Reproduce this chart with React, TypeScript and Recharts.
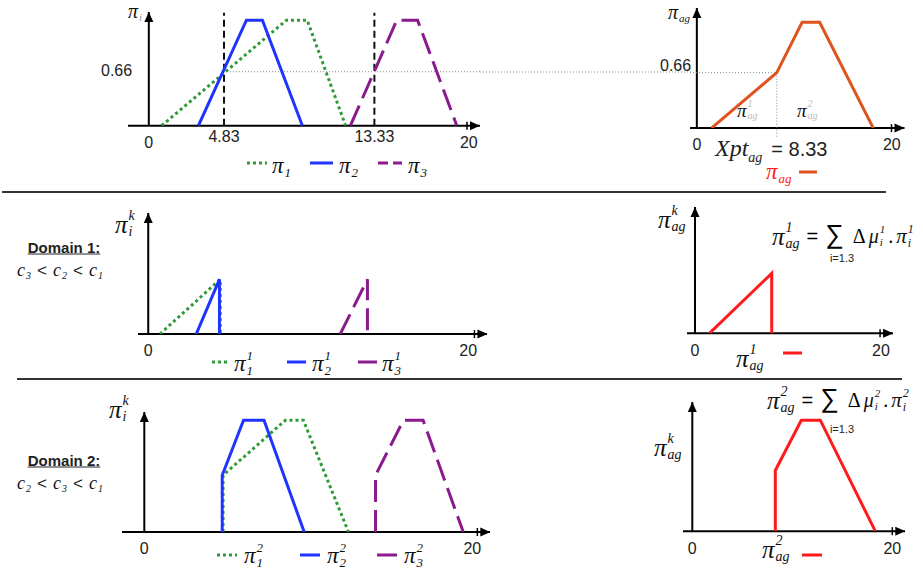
import React from 'react';
import { LineChart, Line, XAxis, YAxis, ReferenceLine, ReferenceDot } from 'recharts';

type Pt = { x: number; y: number };

// row 1 : full distributions
const pi1: Pt[] = [{ x: 0.8, y: 0 }, { x: 8.6, y: 1.29 }, { x: 9.9, y: 1.29 }, { x: 12.3, y: 0 }];
const pi2: Pt[] = [{ x: 3.1, y: 0 }, { x: 6.1, y: 1.29 }, { x: 7.1, y: 1.29 }, { x: 9.6, y: 0 }];
const pi3: Pt[] = [{ x: 12.6, y: 0 }, { x: 15.5, y: 1.29 }, { x: 16.8, y: 1.29 }, { x: 19.25, y: 0 }];
const piAg: Pt[] = [{ x: 1.5, y: 0 }, { x: 8.2, y: 0.66 }, { x: 10.8, y: 1.26 }, { x: 12.6, y: 1.26 }, { x: 18.1, y: 0 }];
const cutLevel = 0.66;
const cutsTop = [4.7, 14.1];
const xptAg = 8.2;
const topTicks = [0, 4.7, 14.1, 20];
const topTickLabels = ['0', '4.83', '13.33', '20'];
const aggTicks = [0, 20];

// row 2 : domain 1
const pi1d1: Pt[] = [{ x: 0.73, y: 0 }, { x: 4.5, y: 0.66 }, { x: 4.5, y: 0 }];
const pi2d1: Pt[] = [{ x: 3.0, y: 0 }, { x: 4.45, y: 0.66 }, { x: 4.45, y: 0 }];
const pi3d1: Pt[] = [{ x: 12.0, y: 0 }, { x: 13.7, y: 0.66 }, { x: 13.7, y: 0 }];
const piAgD1: Pt[] = [{ x: 1.55, y: 0 }, { x: 8.25, y: 0.66 }, { x: 8.25, y: 0 }];

// row 3 : domain 2
const pi1d2: Pt[] = [{ x: 4.8, y: 0 }, { x: 4.8, y: 0.65 }, { x: 8.6, y: 1.28 }, { x: 9.7, y: 1.28 }, { x: 12.45, y: 0 }];
const pi2d2: Pt[] = [{ x: 4.75, y: 0 }, { x: 4.75, y: 0.65 }, { x: 6.05, y: 1.28 }, { x: 7.3, y: 1.28 }, { x: 9.75, y: 0 }];
const pi3d2: Pt[] = [{ x: 14.1, y: 0 }, { x: 14.1, y: 0.65 }, { x: 15.8, y: 1.28 }, { x: 17.0, y: 1.28 }, { x: 19.45, y: 0 }];
const piAgD2: Pt[] = [{ x: 8.3, y: 0 }, { x: 8.3, y: 0.7 }, { x: 10.9, y: 1.28 }, { x: 12.8, y: 1.28 }, { x: 18.3, y: 0 }];

const GREEN = '#2f9a36';
const BLUE = '#1f35ff';
const PURPLE = '#8b1a8e';
const ORANGE = '#e0521e';
const RED = '#ff1b1b';
const SANS = '"Liberation Sans", Arial, sans-serif';
const SERIF = '"Liberation Serif", "Times New Roman", serif';

const lineStyle = {
  green: { stroke: GREEN, strokeWidth: 3, strokeDasharray: '3 3' },
  blue: { stroke: BLUE, strokeWidth: 3 },
  purple: { stroke: PURPLE, strokeWidth: 3, strokeDasharray: '22 8' },
};

const AXIS_H = 30;

const arrowRight = (p: any) => (
  <g>
    <line x1={p.cx - 13} y1={p.cy - 4} x2={p.cx - 13} y2={p.cy + 4} stroke="#000" strokeWidth={1.5} />
    <path d={`M${p.cx},${p.cy} L${p.cx - 10},${p.cy - 4.5} L${p.cx - 10},${p.cy + 4.5} Z`} fill="#000" />
  </g>
);
const arrowUp = (p: any) => (
  <path d={`M${p.cx},${p.cy} L${p.cx - 4.5},${p.cy + 10} L${p.cx + 4.5},${p.cy + 10} Z`} fill="#000" />
);

const makeTick = (ticks: number[], labels: string[], lift: number[] = []) => (p: any) => {
  const i = ticks.indexOf(p.payload.value);
  return (
    <text x={p.x} y={p.y - (lift[i] ?? 0)} dy="0.71em" textAnchor="middle" fontSize={16} fill="#222" fontFamily={SANS}>
      {labels[i] ?? p.payload.value}
    </text>
  );
};

type PanelProps = {
  ox: number; oy: number; sx: number; sy: number;
  xMin: number; xMax: number; yMax: number;
  ticks: number[]; tick: any;
  children?: React.ReactNode;
};

function Panel({ ox, oy, sx, sy, xMin, xMax, yMax, ticks, tick, children }: PanelProps) {
  const left = ox + xMin * sx;
  const top = oy - yMax * sy;
  const w = (xMax - xMin) * sx;
  const h = yMax * sy;
  return (
    <div style={{ position: 'absolute', left, top }}>
      <LineChart width={w} height={h + AXIS_H} margin={{ top: 0, right: 0, bottom: 0, left: 0 }}>
        <XAxis type="number" dataKey="x" domain={[xMin, xMax]} allowDataOverflow ticks={ticks} interval={0}
          axisLine={false} tickLine={false} height={AXIS_H} tickMargin={5} tick={tick} />
        <YAxis type="number" dataKey="y" domain={[0, yMax]} allowDataOverflow hide />
        <ReferenceLine y={0} stroke="#000" strokeWidth={2} />
        <ReferenceLine segment={[{ x: 0, y: 0 }, { x: 0, y: yMax }]} stroke="#000" strokeWidth={2} />
        {children}
        <ReferenceDot x={xMax} y={0} r={0} shape={arrowRight} />
        <ReferenceDot x={0} y={yMax} r={0} shape={arrowUp} />
      </LineChart>
    </div>
  );
}

function Sym({ ch, sub, sup, size = 20, color = '#111', scriptColor, font = SERIF }: any) {
  const s = Math.round(size * 0.55);
  return (
    <span style={{ display: 'inline-flex', alignItems: 'center', fontFamily: font, fontStyle: 'italic', fontSize: size, color, lineHeight: 1 }}>
      <span>{ch}</span>
      <span style={{ display: 'inline-flex', flexDirection: 'column', fontSize: s, lineHeight: 1, marginLeft: 1, color: scriptColor ?? color }}>
        <span style={{ visibility: sup ? 'visible' : 'hidden' }}>{sup ?? 'x'}</span>
        <span style={{ marginTop: 2 }}>{sub ?? '\u00a0'}</span>
      </span>
    </span>
  );
}

function Txt({ x, y, mid, children, style }: any) {
  return (
    <div style={{ position: 'absolute', left: x, top: y, transform: `translate(${mid ? '-50%' : '0'}, -50%)`, whiteSpace: 'nowrap', lineHeight: 1, ...style }}>
      {children}
    </div>
  );
}

function Swatch({ x, y, w, color, dash }: any) {
  return (
    <svg style={{ position: 'absolute', left: x, top: y - 3 }} width={w} height={6}>
      <line x1={0} y1={3} x2={w} y2={3} stroke={color} strokeWidth={3} strokeDasharray={dash} />
    </svg>
  );
}

function Formula({ k }: { k: string }) {
  return (
    <span style={{ display: 'inline-flex', alignItems: 'center', gap: 3 }}>
      <Sym ch="π" sub="ag" sup={k} size={25} />
      <span style={{ fontFamily: SANS, fontSize: 20, margin: '0 4px' }}>=</span>
      <span style={{ fontFamily: SANS, fontSize: 26, lineHeight: 0.8, marginRight: 6, position: 'relative', top: -2 }}>∑</span>
      <span style={{ fontFamily: SERIF, fontSize: 20 }}>Δ</span>
      <Sym ch="μ" sub="i" sup={k} size={20} />
      <span style={{ fontFamily: SERIF, fontSize: 20 }}>.</span>
      <Sym ch="π" sub="i" sup={k} size={21} />
    </span>
  );
}

function Domain({ y, n, order }: { y: number; n: number; order: string[] }) {
  return (
    <>
      <Txt x={64} y={y} mid style={{ fontFamily: SANS, fontWeight: 700, fontSize: 15, textDecoration: 'underline', color: '#222' }}>
        Domain {n}:
      </Txt>
      <Txt x={60} y={y + 23} mid style={{ fontFamily: SERIF, fontSize: 17, color: '#222' }}>
        {order.map((c, i) => (
          <span key={i}>
            {i > 0 && <span style={{ fontFamily: SANS, margin: '0 6px' }}>&lt;</span>}
            <Sym ch="c" sub={c} size={18} />
          </span>
        ))}
      </Txt>
    </>
  );
}

export default function App() {
  const tickTop = makeTick(topTicks, topTickLabels, [0, 6, 6, 0]);
  const tickAgg = makeTick(aggTicks, ['0', '20']);
  return (
    <div style={{ position: 'absolute', left: 0, top: 0, width: 923, height: 572, background: '#fff', overflow: 'hidden', fontFamily: SANS }}>
      {/* row 1 left */}
      <Panel ox={149} oy={126} sx={16} sy={81.8} xMin={-1.3} xMax={20.7} yMax={1.39} ticks={topTicks} tick={tickTop}>
        <ReferenceLine segment={[{ x: cutsTop[0], y: cutLevel }, { x: 20.7, y: cutLevel }]} stroke="#888" strokeWidth={1} strokeDasharray="1 2" />
        {cutsTop.map((c) => (
          <ReferenceLine key={c} segment={[{ x: c, y: 0 }, { x: c, y: 1.38 }]} stroke="#111" strokeWidth={2} strokeDasharray="7 4" />
        ))}
        <Line data={pi1} dataKey="y" type="linear" dot={false} isAnimationActive={false} {...lineStyle.green} />
        <Line data={pi2} dataKey="y" type="linear" dot={false} isAnimationActive={false} {...lineStyle.blue} />
        <Line data={pi3} dataKey="y" type="linear" dot={false} isAnimationActive={false} {...lineStyle.purple} />
      </Panel>
      <svg style={{ position: 'absolute', left: 480, top: 70 }} width={212} height={4}>
        <line x1={0} y1={2} x2={212} y2={2} stroke="#888" strokeWidth={1} strokeDasharray="1 2" />
      </svg>

      {/* row 1 right */}
      <Panel ox={697} oy={128} sx={9.75} sy={84} xMin={-0.7} xMax={21.3} yMax={1.43} ticks={aggTicks} tick={tickAgg}>
        <ReferenceLine segment={[{ x: -0.7, y: cutLevel }, { x: xptAg, y: cutLevel }]} stroke="#888" strokeWidth={1} strokeDasharray="1 2" />
        <ReferenceLine segment={[{ x: xptAg, y: cutLevel }, { x: xptAg, y: -0.11 }]} stroke="#888" strokeWidth={1} strokeDasharray="1 2" ifOverflow="visible" />
        <Line data={piAg} dataKey="y" type="linear" dot={false} isAnimationActive={false} stroke={ORANGE} strokeWidth={3} />
      </Panel>

      {/* row 2 left */}
      <Panel ox={148.3} oy={334} sx={16} sy={82.9} xMin={-0.64} xMax={21.2} yMax={1.46} ticks={aggTicks} tick={tickAgg}>
        <Line data={pi1d1} dataKey="y" type="linear" dot={false} isAnimationActive={false} {...lineStyle.green} />
        <Line data={pi2d1} dataKey="y" type="linear" dot={false} isAnimationActive={false} {...lineStyle.blue} />
        <Line data={pi3d1} dataKey="y" type="linear" dot={false} isAnimationActive={false} {...lineStyle.purple} />
      </Panel>

      {/* row 2 right */}
      <Panel ox={695} oy={333.3} sx={9.3} sy={90.9} xMin={-0.86} xMax={21.3} yMax={1.39} ticks={aggTicks} tick={tickAgg}>
        <Line data={piAgD1} dataKey="y" type="linear" dot={false} isAnimationActive={false} stroke={RED} strokeWidth={3} />
      </Panel>

      {/* row 3 left */}
      <Panel ox={144} oy={531.7} sx={16.4} sy={87.3} xMin={-1.36} xMax={21.1} yMax={1.375} ticks={aggTicks} tick={tickAgg}>
        <Line data={pi1d2} dataKey="y" type="linear" dot={false} isAnimationActive={false} {...lineStyle.green} />
        <Line data={pi2d2} dataKey="y" type="linear" dot={false} isAnimationActive={false} {...lineStyle.blue} />
        <Line data={pi3d2} dataKey="y" type="linear" dot={false} isAnimationActive={false} {...lineStyle.purple} />
      </Panel>

      {/* row 3 right */}
      <Panel ox={692.3} oy={531} sx={10} sy={86.7} xMin={-0.93} xMax={21.3} yMax={1.49} ticks={aggTicks} tick={tickAgg}>
        <Line data={piAgD2} dataKey="y" type="linear" dot={false} isAnimationActive={false} stroke={RED} strokeWidth={3} />
      </Panel>

      {/* separators */}
      <div style={{ position: 'absolute', left: 2, top: 191, width: 884, height: 2, background: '#333' }} />
      <div style={{ position: 'absolute', left: 17, top: 378, width: 885, height: 2, background: '#333' }} />

      {/* row 1 texts */}
      <Txt x={128} y={11}><Sym ch="π" sub="i" size={20} scriptColor="#999" /></Txt>
      <Txt x={101} y={71} style={{ fontSize: 16, color: '#222' }}>0.66</Txt>
      <Swatch x={247} y={163} w={20} color={GREEN} dash="3 3" />
      <Txt x={272} y={165}><Sym ch="π" sub="1" size={23} /></Txt>
      <Swatch x={310} y={163} w={23} color={BLUE} />
      <Txt x={339} y={165}><Sym ch="π" sub="2" size={23} /></Txt>
      <Swatch x={378} y={163} w={24} color={PURPLE} dash="10 5" />
      <Txt x={408} y={165}><Sym ch="π" sub="3" size={23} /></Txt>

      <Txt x={668} y={12}><Sym ch="π" sub="ag" size={20} /></Txt>
      <Txt x={660} y={66} style={{ fontSize: 16, color: '#222' }}>0.66</Txt>
      <Txt x={737} y={110}><Sym ch="π" sup="1" sub="ag" size={19} scriptColor="#bbb" /></Txt>
      <Txt x={797} y={110}><Sym ch="π" sup="2" sub="ag" size={19} scriptColor="#bbb" /></Txt>
      <Txt x={715} y={148} style={{ color: '#222' }}>
        <span style={{ fontFamily: SERIF, fontStyle: 'italic', fontSize: 24 }}>Xpt</span>
        <span style={{ fontFamily: SERIF, fontStyle: 'italic', fontSize: 14, position: 'relative', top: 6 }}>ag</span>
        <span style={{ fontSize: 20, marginLeft: 9 }}>= 8.33</span>
      </Txt>
      <Txt x={766} y={171}><Sym ch="π" sub="ag" size={23} color={RED} /></Txt>
      <Swatch x={799} y={172} w={18} color={ORANGE} />

      {/* row 2 texts */}
      <Domain y={247} n={1} order={['3', '2', '1']} />
      <Txt x={115} y={224}><Sym ch="π" sub="i" sup="k" size={25} /></Txt>
      <Swatch x={212} y={362} w={18} color={GREEN} dash="3 3" />
      <Txt x={234} y={363}><Sym ch="π" sub="1" sup="1" size={23} /></Txt>
      <Swatch x={287} y={362} w={19} color={BLUE} />
      <Txt x={312} y={363}><Sym ch="π" sub="2" sup="1" size={23} /></Txt>
      <Swatch x={358} y={362} w={19} color={PURPLE} />
      <Txt x={382} y={363}><Sym ch="π" sub="3" sup="1" size={23} /></Txt>

      <Txt x={658} y={219}><Sym ch="π" sub="ag" sup="k" size={25} /></Txt>
      <Txt x={772} y={236}><Formula k="1" /></Txt>
      <Txt x={842} y={258} mid style={{ fontSize: 11, color: '#222' }}>i=1.3</Txt>
      <Txt x={736} y={358}><Sym ch="π" sub="ag" sup="1" size={25} /></Txt>
      <Swatch x={783} y={353} w={19} color={RED} />

      {/* row 3 texts */}
      <Domain y={460} n={2} order={['2', '3', '1']} />
      <Txt x={109} y={409}><Sym ch="π" sub="i" sup="k" size={25} /></Txt>
      <Swatch x={217} y={555} w={20} color={GREEN} dash="3 3" />
      <Txt x={244} y={555}><Sym ch="π" sub="1" sup="2" size={23} /></Txt>
      <Swatch x={300} y={555} w={20} color={BLUE} />
      <Txt x={327} y={555}><Sym ch="π" sub="2" sup="2" size={23} /></Txt>
      <Swatch x={377} y={555} w={20} color={PURPLE} />
      <Txt x={404} y={555}><Sym ch="π" sub="3" sup="2" size={23} /></Txt>

      <Txt x={654} y={447}><Sym ch="π" sub="ag" sup="k" size={25} /></Txt>
      <Txt x={767} y={400}><Formula k="2" /></Txt>
      <Txt x={842} y={429} mid style={{ fontSize: 11, color: '#222' }}>i=1.3</Txt>
      <Txt x={762} y={549}><Sym ch="π" sub="ag" sup="2" size={25} /></Txt>
      <Swatch x={802} y={555} w={20} color={RED} />
    </div>
  );
}
